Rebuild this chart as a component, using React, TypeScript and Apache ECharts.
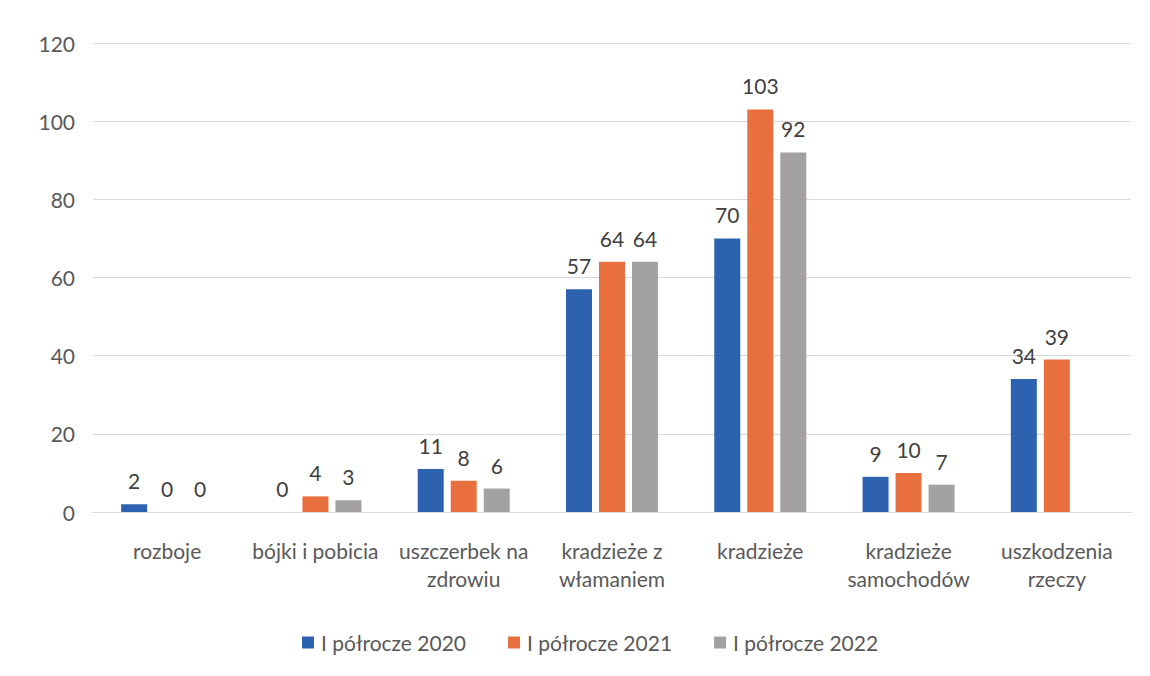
import React, { useEffect, useRef } from "react";
import * as echarts from "echarts";

const categories = [
  "rozboje",
  "bójki i pobicia",
  "uszczerbek na\nzdrowiu",
  "kradzieże z\nwłamaniem",
  "kradzieże",
  "kradzieże\nsamochodów",
  "uszkodzenia\nrzeczy",
];
const seriesNames = ["I półrocze 2020", "I półrocze 2021", "I półrocze 2022"];
const values2020 = [2, 0, 11, 57, 70, 9, 34];
const values2021 = [0, 4, 8, 64, 103, 10, 39];
const values2022 = [0, 3, 6, 64, 92, 7, null];
const colors = ["#2D62B0", "#E8703E", "#A3A1A1"];

const FONT = "Lato, 'Open Sans', sans-serif";

export default function App() {
  const ref = useRef<HTMLDivElement>(null);
  useEffect(() => {
    if (!ref.current) return;
    const chart = echarts.init(ref.current, null, { renderer: "svg" });
    const all = [values2020, values2021, values2022];
    chart.setOption({
      animation: false,
      backgroundColor: "#ffffff",
      textStyle: { fontFamily: FONT },
      grid: { left: 93, right: 19, top: 43, bottom: 164, containLabel: false },
      legend: {
        bottom: 18,
        left: 297,
        itemWidth: 12,
        itemHeight: 12,
        itemGap: 42,
        icon: "rect",
        textStyle: { fontSize: 21, color: "#595959", fontFamily: FONT, padding: [0, 0, 0, 2] },
        data: seriesNames,
      },
      xAxis: {
        type: "category",
        data: categories,
        axisTick: { show: false },
        axisLine: { show: true, lineStyle: { color: "#d9d9d9", width: 1 } },
        axisLabel: {
          interval: 0,
          color: "#595959",
          fontSize: 21,
          lineHeight: 28,
          margin: 24,
          fontFamily: FONT,
        },
      },
      yAxis: {
        type: "value",
        min: 0,
        max: 120,
        interval: 20,
        axisLine: { show: false },
        axisTick: { show: false },
        splitLine: { lineStyle: { color: "#d9d9d9", width: 1 } },
        axisLabel: { color: "#595959", fontSize: 21, margin: 18, fontFamily: FONT },
      },
      series: seriesNames.map((name, i) => ({
        name,
        type: "bar",
        data: all[i],
        barWidth: 26,
        barGap: "27%",
        itemStyle: { color: colors[i] },
        label: {
          show: true,
          position: "top",
          distance: 13,
          color: "#404040",
          fontSize: 21,
          fontFamily: FONT,
        },
      })),
    });
    return () => chart.dispose();
  }, []);
  return (
    <div
      ref={ref}
      style={{ position: "absolute", left: 0, top: 0, width: 1150, height: 676 }}
    />
  );
}
